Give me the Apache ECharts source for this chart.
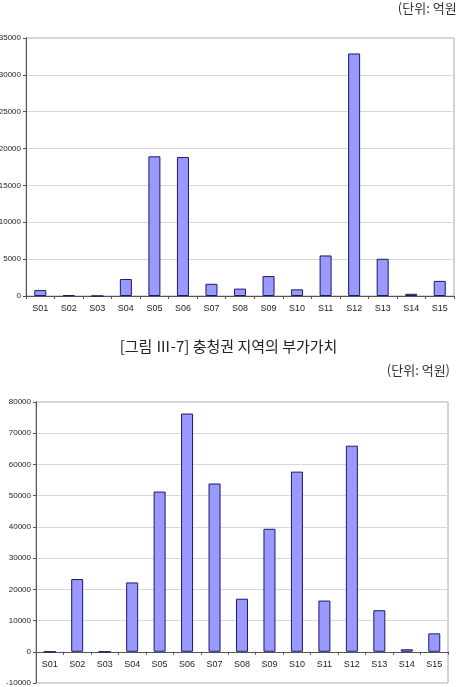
<!DOCTYPE html>
<html><head><meta charset="utf-8">
<script src="https://cdn.jsdelivr.net/npm/echarts@6/dist/echarts.min.js"></script>
<style>html,body{margin:0;padding:0;background:#fff;}#c{width:457px;height:687px;}</style>
</head><body><div id="c"></div>
<script>
const categories = ['S01','S02','S03','S04','S05','S06','S07','S08','S09','S10','S11','S12','S13','S14','S15'];
const topValues = [800, 100, 0, 2300, 18950, 18850, 1650, 1000, 2700, 900, 5500, 32900, 5050, 300, 2050];
const bottomValues = [0, 23300, 0, 22200, 51300, 76300, 53900, 17000, 39400, 57700, 16400, 66000, 13300, 800, 5900];
const topTicks = {min: 0, max: 35000, interval: 5000};
const bottomTicks = {min: -10000, max: 80000, interval: 10000};
const figTitle = '[그림 Ⅲ-7] 충청권 지역의 부가가치';
const unitText = '(단위: 억원)';

const chart = echarts.init(document.getElementById('c'), null, {renderer: 'canvas'});
const labelFont = {fontFamily: 'Liberation Sans, Arial, sans-serif', color: '#222'};
const barStyle = {color: '#9999ff', borderColor: '#1a1a66', borderWidth: 1};
const bottomGridHeight = 281;
function xAx(gi, offset) {
  return {
    type: 'category', gridIndex: gi, data: categories, position: 'bottom', offset: offset,
    axisLine: {onZero: false, lineStyle: {color: '#555', width: 1}},
    axisTick: {show: true, length: 3, lineStyle: {color: '#555'}},
    axisLabel: Object.assign({fontSize: 9, margin: 8}, labelFont)
  };
}
function yAx(gi, t) {
  return {
    type: 'value', gridIndex: gi, min: t.min, max: t.max, interval: t.interval,
    axisLine: {show: true, lineStyle: {color: '#555'}},
    axisTick: {show: true, length: 3, lineStyle: {color: '#555'}},
    splitLine: {lineStyle: {color: '#d8d8d8', width: 1}},
    axisLabel: Object.assign({fontSize: 8, margin: 5, formatter: v => String(v)}, labelFont)
  };
}
// offset of the bottom x axis so that it sits on the zero line
const zeroOffset = -bottomGridHeight * (0 - bottomTicks.min) / (bottomTicks.max - bottomTicks.min);
chart.setOption({
  animation: false,
  title: [
    {text: unitText, right: -9, top: -3, textStyle: {fontFamily: 'Noto Sans CJK KR', fontSize: 13, fontWeight: 'normal', color: '#333'}},
    {text: figTitle, left: 'center', top: 334, textStyle: {fontFamily: 'Noto Sans CJK KR', fontSize: 15, fontWeight: 'normal', color: '#222'}},
    {text: unitText, right: 2, top: 359, textStyle: {fontFamily: 'Noto Sans CJK KR', fontSize: 13, fontWeight: 'normal', color: '#333'}}
  ],
  grid: [
    {left: 26, top: 38, width: 428, height: 258, show: true, borderColor: '#a8a8a8', borderWidth: 1, backgroundColor: 'transparent', containLabel: false, outerBoundsMode: 'none'},
    {left: 36, top: 402, width: 412, height: bottomGridHeight, show: true, borderColor: '#a8a8a8', borderWidth: 1, backgroundColor: 'transparent', containLabel: false, outerBoundsMode: 'none'}
  ],
  xAxis: [xAx(0, 0), xAx(1, zeroOffset)],
  yAxis: [yAx(0, topTicks), yAx(1, bottomTicks)],
  series: [
    {type: 'bar', xAxisIndex: 0, yAxisIndex: 0, data: topValues, barWidth: 12, itemStyle: barStyle},
    {type: 'bar', xAxisIndex: 1, yAxisIndex: 1, data: bottomValues, barWidth: 12, itemStyle: barStyle}
  ]
});
</script></body></html>
